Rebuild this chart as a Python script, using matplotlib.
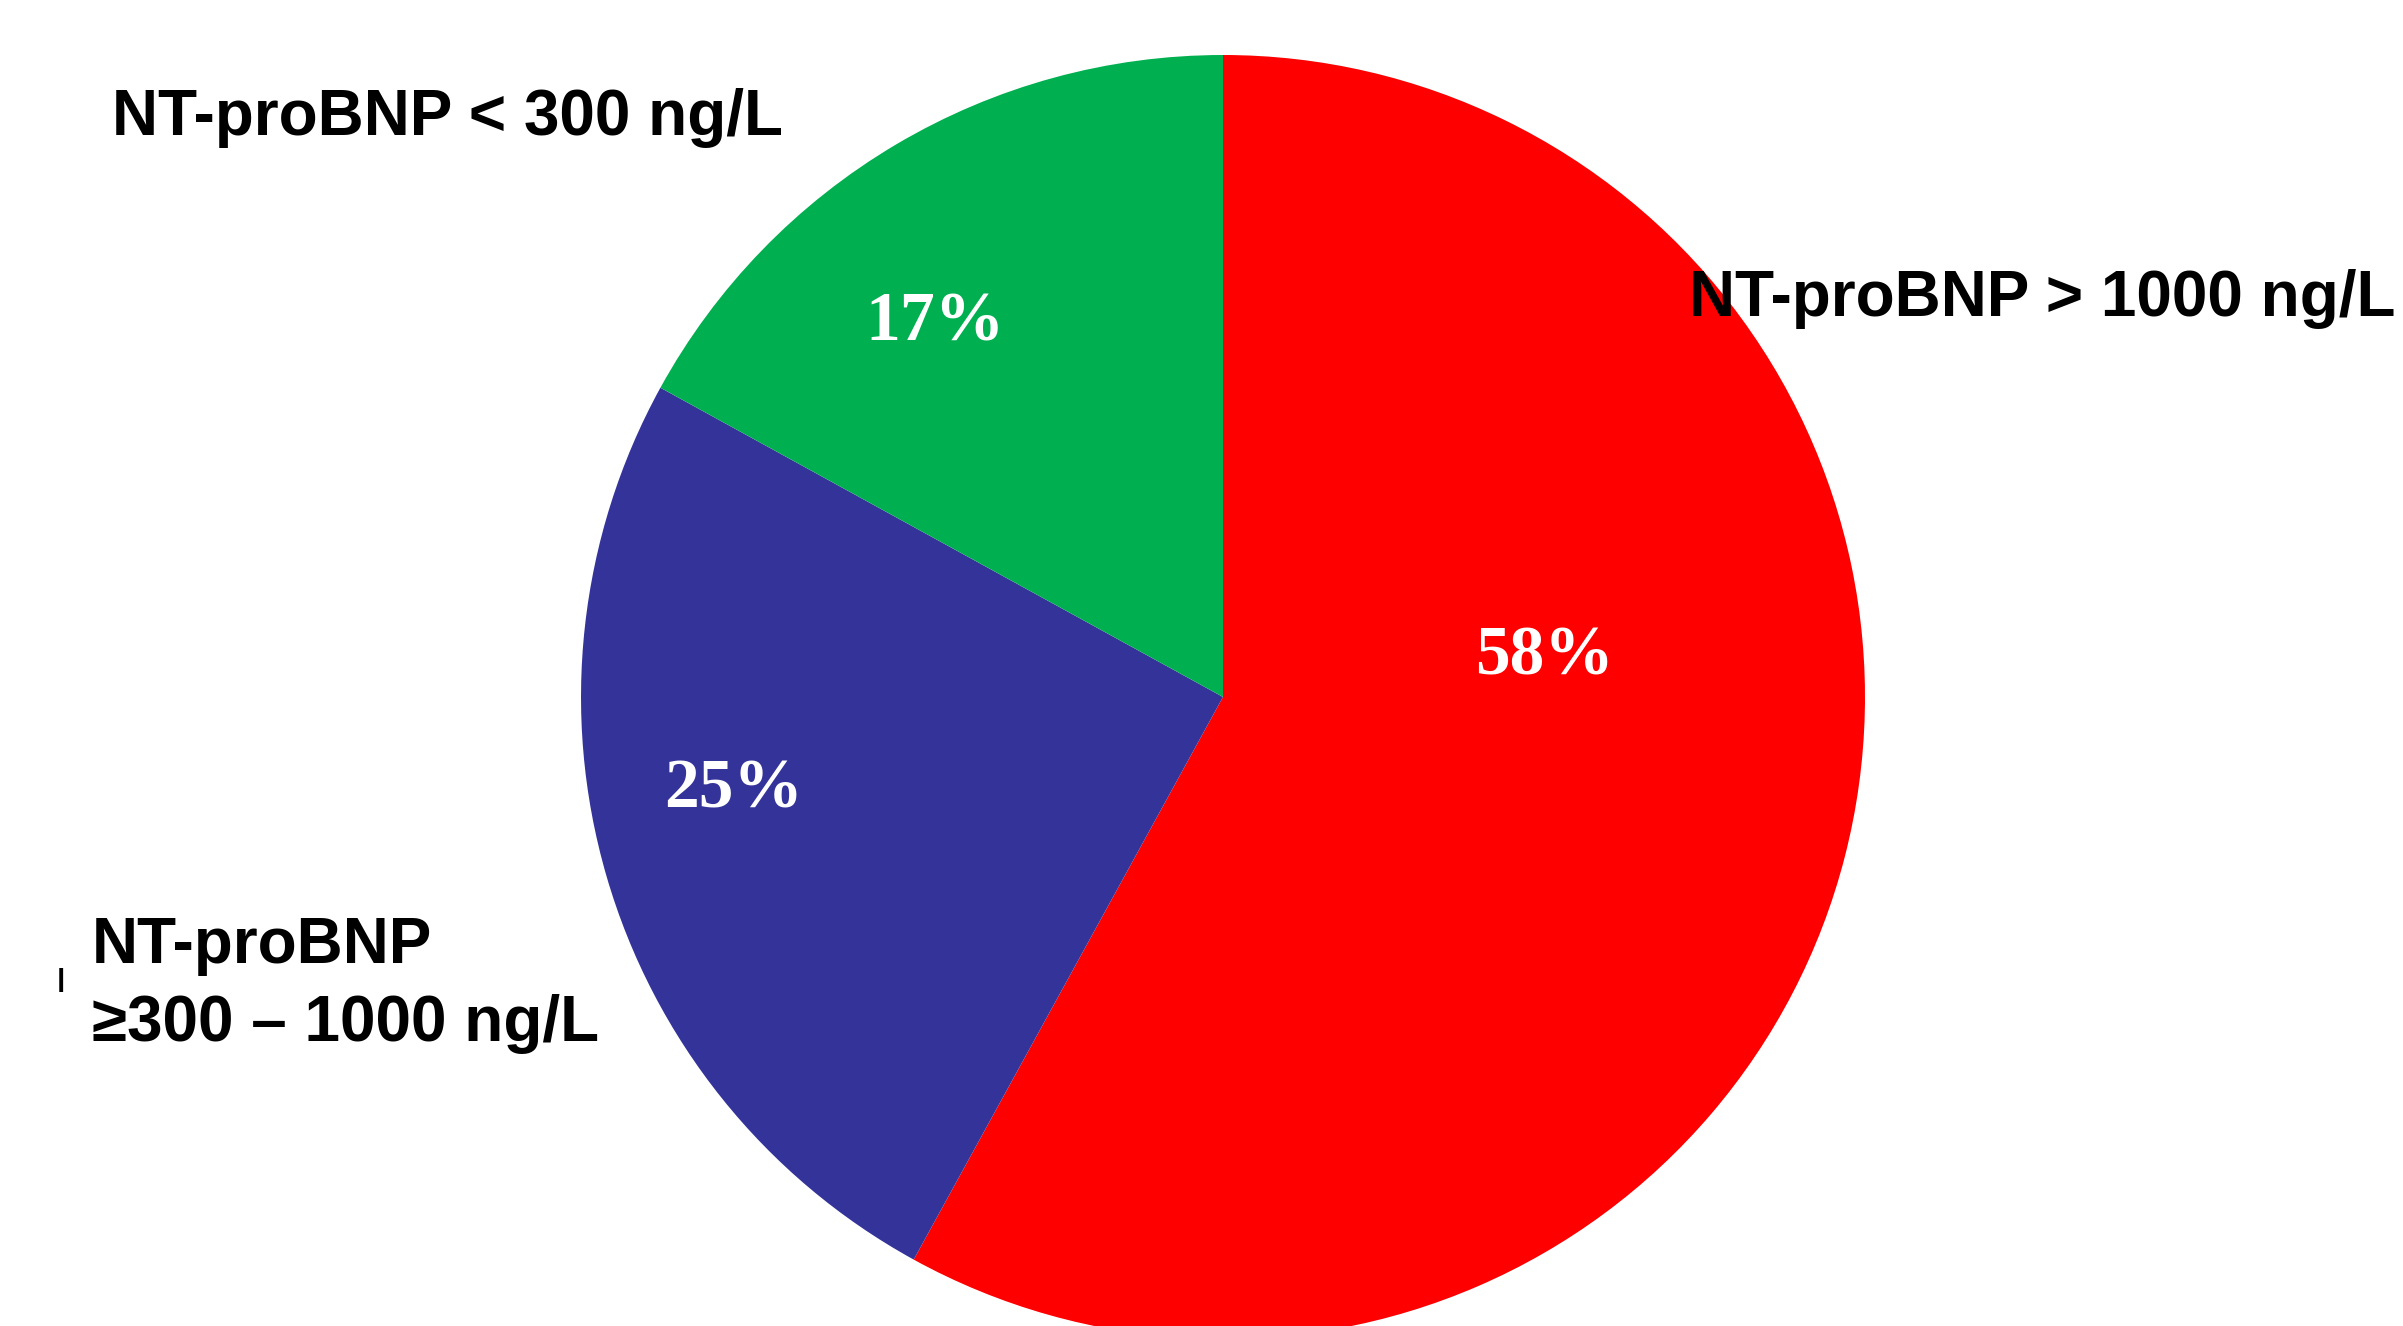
import matplotlib
matplotlib.use("Agg")
import matplotlib.pyplot as plt

categories = ["NT-proBNP > 1000 ng/L", ("NT-proBNP", "≥300 – 1000 ng/L"), "NT-proBNP < 300 ng/L"]
values = [58, 25, 17]
pct_labels = ["58%", "25%", "17%"]
colors = ["#FF0000", "#333399", "#00B050"]

W, H = 2403, 1326
cx, cy, R = 1223, 697, 642

fig = plt.figure(figsize=(W / 100, H / 100), dpi=100)
ax = fig.add_axes([0, 0, 1, 1])
ax.pie(values, colors=colors, startangle=90, counterclock=False, radius=1,
       center=(0, 0), wedgeprops=dict(linewidth=0))
ax.set_xlim(-cx / R, (W - cx) / R)
ax.set_ylim(-(H - cy) / R, cy / R)
ax.set_aspect("auto")
ax.axis("off")

# percentage labels (data coords, pie radius = 1)
pct_pos = [(0.50, 0.062), (-0.763, -0.145), (-0.449, 0.582)]
for (x, y), t in zip(pct_pos, pct_labels):
    ax.text(x, y, t, color="white", fontsize=50, fontweight="bold",
            family="Liberation Serif", ha="center", va="center")

txt = dict(fontsize=46, fontweight="bold", family="Liberation Sans",
           ha="left", va="baseline")
fig.text(1689 / W, 1 - 316 / H, categories[0], **txt)
fig.text(92 / W, 1 - 963 / H, categories[1][0], **txt)
fig.text(92 / W, 1 - 1041 / H, categories[1][1], **txt)
fig.text(112 / W, 1 - 135 / H, categories[2], **txt)

fig.text(61 / W, 1 - 992 / H, "ı", fontsize=32, family="Liberation Sans",
         ha="center", va="baseline")

fig.savefig("out.png", dpi=100)
